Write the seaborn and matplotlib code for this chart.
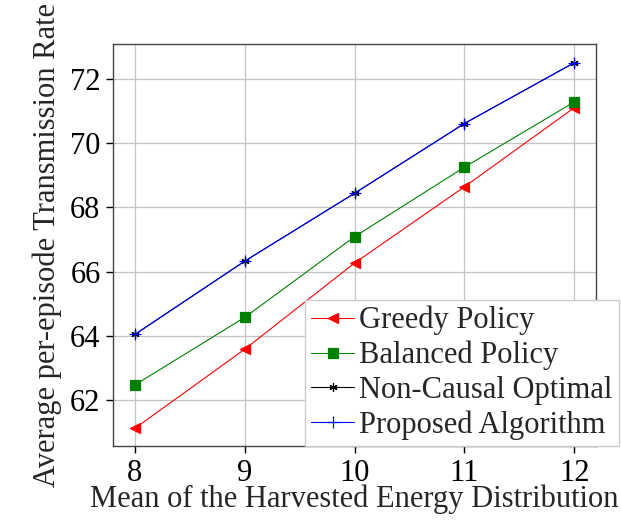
import pandas as pd
import matplotlib
matplotlib.use("Agg")
import matplotlib.pyplot as plt
import seaborn as sns

harvest_mean = [8, 9, 10, 11, 12]
greedy = [61.13, 63.59, 66.27, 68.64, 71.10]
balanced = [62.48, 64.58, 67.09, 69.25, 71.28]
non_causal = [64.05, 66.33, 68.44, 70.61, 72.50]
proposed = [64.05, 66.33, 68.44, 70.61, 72.50]

series = {
    "Greedy Policy": greedy,
    "Balanced Policy": balanced,
    "Non-Causal Optimal": non_causal,
    "Proposed Algorithm": proposed,
}

rows = []
for name, vals in series.items():
    for x, y in zip(harvest_mean, vals):
        rows.append({"mean": x, "rate": y, "policy": name})
df = pd.DataFrame(rows)

sns.set_style("whitegrid")
plt.rcParams["font.family"] = ["Liberation Serif", "DejaVu Serif"]
plt.rcParams["font.size"] = 22

styles = {
    "Greedy Policy": dict(color="red", marker="<", markersize=7),
    "Balanced Policy": dict(color="green", marker="s", markersize=7),
    "Non-Causal Optimal": dict(color="black", marker=(6, 2, 0), markersize=6),
    "Proposed Algorithm": dict(color="blue", marker="+", markersize=8),
}

fig = plt.figure(figsize=(6.21, 5.25), dpi=100)
ax = fig.add_axes([0.182, 0.150, 0.778, 0.766])

for name in series:
    sub = df[df["policy"] == name]
    st = styles[name]
    sns.lineplot(data=sub, x="mean", y="rate", ax=ax, label=name,
                 color=st["color"], marker=st["marker"], markersize=st["markersize"],
                 markeredgecolor=st["color"], linewidth=0.8, markeredgewidth=0.9)

ax.set_xlim(7.8, 12.2)
ax.set_ylim(60.57, 73.08)
ax.set_xticks(harvest_mean)
ax.set_yticks([62, 64, 66, 68, 70, 72])
ax.grid(True, color="#c4c4c4", linewidth=0.9)
ax.tick_params(axis="both", direction="out", length=5, width=1, colors="black",
               labelsize=22, left=True, bottom=True, pad=4)
for s in ax.spines.values():
    s.set_color("#444444")
    s.set_linewidth(1.0)

ax.set_xlabel("Mean of the Harvested Energy Distribution", fontsize=22, labelpad=-2)
ax.set_ylabel("Average per-episode Transmission Rate", fontsize=22, labelpad=6)

leg = ax.legend(loc="lower left", bbox_to_anchor=(305 / 621, 1 - 446 / 525),
                bbox_transform=fig.transFigure, borderaxespad=0, fontsize=22,
                frameon=True, fancybox=False, framealpha=1, edgecolor="#cccccc",
                handlelength=1.4, handletextpad=0.18, labelspacing=0.18,
                borderpad=0.2)
leg.get_frame().set_linewidth(1.0)

fig.savefig("out.png", dpi=100)
